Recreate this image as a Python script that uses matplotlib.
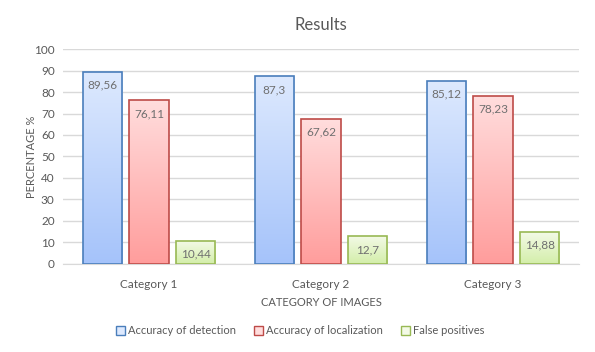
import matplotlib.pyplot as plt
import numpy as np
from matplotlib.colors import LinearSegmentedColormap

plt.rcParams['font.family'] = ['Lato', 'DejaVu Sans']

# data
categories = ['Category 1', 'Category 2', 'Category 3']
series_names = ['Accuracy of detection', 'Accuracy of localization', 'False positives']
detection = [89.56, 87.3, 85.12]
localization = [76.11, 67.62, 78.23]
false_pos = [10.44, 12.7, 14.88]
value_labels = [['89,56', '87,3', '85,12'],
                ['76,11', '67,62', '78,23'],
                ['10,44', '12,7', '14,88']]

series = [detection, localization, false_pos]
# (top colour, bottom colour, edge)
styles = [('#dde9fe', '#a5c3fa', '#4a7ebb'),
          ('#ffdddd', '#ff9d9c', '#be4b48'),
          ('#f3fae6', '#d3eea9', '#98b954')]

txt = '#595959'
fig = plt.figure(figsize=(5.95, 3.52), dpi=100)
ax = fig.add_axes([0.1059, 0.2514, 0.8672, 0.6086])

x = np.arange(len(categories))
width = 0.227
step = 0.272
handles = []
for i, (vals, (ctop, cbot, edge)) in enumerate(zip(series, styles)):
    pos = x + (i - 1) * step
    bars = ax.bar(pos, vals, width, facecolor='none', edgecolor=edge, linewidth=1.2, zorder=3)
    cmap = LinearSegmentedColormap.from_list('g%d' % i, [cbot, ctop])
    grad = np.linspace(0, 1, 256).reshape(-1, 1)
    for b, v, lab in zip(bars, vals, value_labels[i]):
        bx, by = b.get_x(), b.get_y()
        im = ax.imshow(grad, cmap=cmap, aspect='auto', origin='lower',
                       extent=[bx, bx + b.get_width(), by, by + b.get_height()], zorder=2)
        im.set_clip_path(b)
        ax.text(b.get_x() + b.get_width() / 2, v - 3.6, lab, ha='center', va='top',
                fontsize=8.5, color='#6f6f6f', zorder=4)
    handles.append(plt.Rectangle((0, 0), 1, 1, facecolor=ctop, edgecolor=edge, linewidth=1))

ax.set_xlim(-0.5, 2.5)
ax.set_ylim(0, 100)
ax.set_yticks(range(0, 101, 10))
ax.set_xticks(x)
ax.set_xticklabels(categories)
ax.grid(axis='y', color='#d9d9d9', linewidth=1, zorder=0)
for s in ['top', 'right', 'left']:
    ax.spines[s].set_visible(False)
ax.spines['bottom'].set_color('#d9d9d9')
ax.tick_params(axis='both', length=0, labelsize=8.5, colors=txt)
ax.tick_params(axis='y', pad=6)
ax.tick_params(axis='x', pad=11)

ax.set_title('Results', fontsize=12, color=txt, pad=14)
ax.set_ylabel('PERCENTAGE %', fontsize=8, color=txt, labelpad=-2)
ax.set_xlabel('CATEGORY OF IMAGES', fontsize=8, color=txt, labelpad=5)

fig.legend(handles, series_names, loc='center', bbox_to_anchor=(0.505, 0.06), ncol=3,
           frameon=False, fontsize=8, labelcolor=txt, handlelength=0.8, handleheight=0.8,
           handletextpad=0.3, columnspacing=1.6)

fig.savefig('out.png', dpi=100)
